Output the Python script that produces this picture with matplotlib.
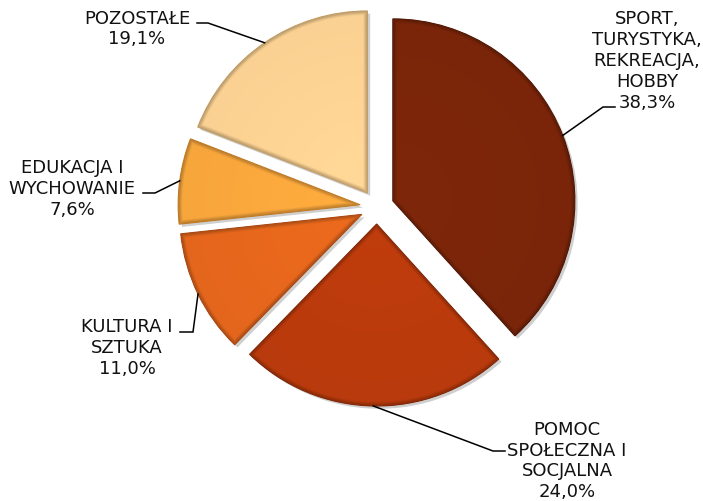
import numpy as np
import matplotlib.pyplot as plt
import matplotlib.patheffects as pe
from matplotlib.colors import to_rgb

# data
categories = ['SPORT,\nTURYSTYKA,\nREKREACJA,\nHOBBY',
              'POMOC\nSPOŁECZNA I\nSOCJALNA',
              'KULTURA I\nSZTUKA',
              'EDUKACJA I\nWYCHOWANIE',
              'POZOSTAŁE']
shares = [38.3, 24.0, 11.0, 7.6, 19.1]
share_labels = ['38,3%', '24,0%', '11,0%', '7,6%', '19,1%']
colors = ['#7a2509', '#b93a0c', '#e4661c', '#f7a63c', '#fad192']
edge_colors = ['#4a1204', '#7a2206', '#a5420e', '#c27820', '#c49a5c']

# layout in pixel coordinates (y measured from top)
W, H = 703, 502
cx, cy = 377, 208
radius = 182
expl = 17
text_pos = [(647, 61), (567, 461), (127, 348), (72, 189), (137, 29)]
elbows = [(603, 108), (493, 452), (193, 333), (155, 194), (208, 24)]
ends = [(615, 108), (505, 452), (180, 333), (143, 194), (197, 24)]

fig = plt.figure(figsize=(W / 100, H / 100), dpi=100)
ax = fig.add_axes([0, 0, 1, 1])

wedges, _ = ax.pie(shares, colors=colors, startangle=90, counterclock=False,
                   center=(cx, H - cy), radius=radius, explode=[expl] * len(shares),
                   wedgeprops=dict(linewidth=0.8))

# pixel grid for the bevel shading
cols, rows = np.meshgrid(np.arange(W) + 0.5, np.arange(H) + 0.5)
X = cols
Y = H - rows

for w, col, ec in zip(wedges, colors, edge_colors):
    w.set_edgecolor(ec)
    w.set_path_effects([pe.SimplePatchShadow(offset=(2, -2), alpha=0.35, shadow_rgbFace='#777777'),
                        pe.Normal()])
    wx, wy = w.center
    d = np.hypot(X - wx, Y - wy)
    ang = np.degrees(np.arctan2(Y - wy, X - wx))
    span = w.theta2 - w.theta1
    rel = np.mod(ang - w.theta1, 360)
    rel = np.clip(rel, 0, span)
    d1 = d * np.sin(np.radians(np.minimum(rel, 90)))
    d2 = d * np.sin(np.radians(np.minimum(span - rel, 90)))
    dist = np.minimum(np.minimum(radius - d, d1), d2)
    t = np.clip(dist / 5.0, 0, 1)
    shade = 0.76 + 0.24 * (t * t * (3 - 2 * t))
    shade = shade * (1 + 0.04 * np.clip(1 - d / radius, 0, 1))
    img = np.clip(np.array(to_rgb(col))[None, None, :] * shade[:, :, None], 0, 1)
    im = ax.imshow(img, extent=(0, W, 0, H), origin='upper', zorder=w.get_zorder() + 0.1,
                   interpolation='bilinear')
    im.set_clip_path(w)

ax.set_xlim(0, W)
ax.set_ylim(0, H)
ax.set_aspect('equal')
ax.axis('off')

for i, w in enumerate(wedges):
    mid = np.deg2rad((w.theta1 + w.theta2) / 2)
    px = w.center[0] + radius * np.cos(mid)
    py = w.center[1] + radius * np.sin(mid)
    ex, ey = elbows[i]
    fx, fy = ends[i]
    ax.plot([px, ex, fx], [py, H - ey, H - fy], color='black', lw=1.1,
            solid_joinstyle='miter', zorder=5)
    tx, ty = text_pos[i]
    ax.text(tx, H - ty, categories[i] + '\n' + share_labels[i], ha='center', va='center',
            fontsize=13, linespacing=1.2, color='#111111', zorder=6)

plt.savefig('out.png', dpi=100)
